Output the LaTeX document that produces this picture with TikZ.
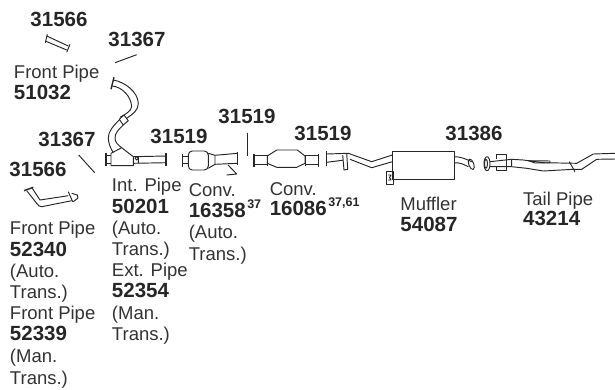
\documentclass[tikz,border=0pt]{standalone}
\usepackage{fontspec}
\setmainfont{Liberation Sans}
\tikzset{
  partno/.style={font=\fontsize{20.5}{20.5}\selectfont\bfseries,text=black!85,inner sep=0pt,anchor=base west},
  partname/.style={font=\fontsize{18.5}{18.5}\selectfont,text=black!80,inner sep=0pt,anchor=base west},
  pipe/.style={draw=black!85,line width=0.95pt,line join=round},
  flange/.style={line width=1.4pt},
}
\newcommand{\supno}[1]{\kern1.5pt\raisebox{9pt}{\fontsize{12.5}{12.5}\selectfont #1}}
\begin{document}
\begin{tikzpicture}[x=1pt,y=-1pt,pipe]
  \useasboundingbox (0,0) rectangle (615,389);
  % numbers over the parts
  \node[partno] (n1) at (30,26) {31566};
  \node[partno] (n2) at (108,46.7) {31367};
  \node[partno] (n3) at (38,146.7) {31367};
  \node[partno] (n4) at (9,176.7) {31566};
  \node[partno] (n5) at (150,143.3) {31519};
  \node[partno] (n6) at (218,123.3) {31519};
  \node[partno] (n7) at (294,140) {31519};
  \node[partno] (n8) at (445,140) {31386};
  % names of the parts
  \node[partname] (a1) at (13.5,78) {Front Pipe};
  \node[partno] (a2) at (13.5,99.3) {51032};
  \node[partname] (b1) at (111.5,191.7) {Int. Pipe};
  \node[partno] (b2) at (111.5,213) {50201};
  \node[partname] (b3) at (111.5,234) {(Auto.};
  \node[partname] (b4) at (111.5,255.3) {Trans.)};
  \node[partname] (b5) at (111.5,276) {Ext. Pipe};
  \node[partno] (b6) at (111.5,297.7) {52354};
  \node[partname] (b7) at (111.5,319.3) {(Man.};
  \node[partname] (b8) at (111.5,340) {Trans.)};
  \node[partname] (c1) at (188.3,196) {Conv.};
  \node[partno] (c2) at (188.3,217.3) {16358\supno{37}};
  \node[partname] (c3) at (188.3,238.3) {(Auto.};
  \node[partname] (c4) at (188.3,260) {Trans.)};
  \node[partname] (d1) at (269.3,195) {Conv.};
  \node[partno] (d2) at (269.3,215.7) {16086\supno{37,61}};
  \node[partname] (e1) at (400,210) {Muffler};
  \node[partno] (e2) at (400,231) {54087};
  \node[partname] (f1) at (522.7,205) {Tail Pipe};
  \node[partno] (f2) at (522.7,225.7) {43214};
  \node[partname] (g1) at (9.5,234) {Front Pipe};
  \node[partno] (g2) at (9.5,256) {52340};
  \node[partname] (g3) at (9.5,277) {(Auto.};
  \node[partname] (g4) at (9.5,298.3) {Trans.)};
  \node[partname] (g5) at (9.5,319.3) {Front Pipe};
  \node[partno] (g6) at (9.5,340.7) {52339};
  \node[partname] (g7) at (9.5,362.7) {(Man.};
  \node[partname] (g8) at (9.5,384) {Trans.)};
  % clamps and gaskets
  \draw (47.3,34.3) -- (45.3,42.7) (70,44.3) -- (66.7,52.3);
  \draw (46.7,36) -- (68.3,46) (46,41.3) -- (66.7,50);
  \draw (115,62.7) -- (136.7,54.7);
  \draw (78.7,155) -- (94.7,172.7);
  \draw (247.3,132.7) -- (247.3,156);
  % front pipe 51032
  \draw[flange] (114,77.3) -- (111,89.3);
  \draw (113.3,80) .. controls (125,82) and (138,92) .. (138.3,103.3) .. controls (138.5,110) and (133,114) .. (126.7,118.3)
        (112.3,86) .. controls (122,87) and (131,96) .. (131.7,106.7) .. controls (131,111) and (126,114) .. (120,117.3);
  \draw (119.3,119.3) -- (124,115) -- (128.3,120.7) -- (123.3,125) -- cycle;
  \draw (119.3,120) .. controls (113,126) and (108,132) .. (108.3,138.3) .. controls (108.5,144) and (111,149) .. (113.3,152.7)
        (123.3,125) .. controls (118,130) and (115,133) .. (115,138.3) .. controls (115,142) and (118,145) .. (121.7,147.7);
  % front pipe 52340
  \draw[flange] (24,190.7) -- (33.3,187.3);
  \draw (32.3,188.3) -- (40,200) -- (68.3,195.7)
        (26.7,190.7) -- (36.7,203.3) .. controls (38,205.5) and (40,207) .. (41.7,206.7) -- (71.7,200.7);
  \draw (68.3,191.7) -- (72.7,201.7) (71.7,193.3) -- (77.3,195) -- (78,198) -- (73.3,201.7);
  % int. pipe 50201
  \draw[flange] (106,153.3) -- (106,165.7) (166,153.3) -- (166,165.7);
  \draw (106,155) -- (111,155) (106,163.3) -- (111,163.3);
  \draw (111,153.3) -- (121.7,147.7) -- (133.3,156.7) -- (133.3,165.7) -- (111,165.7) -- cycle;
  \draw (133.3,156.7) -- (166,156) (133.3,163.3) -- (166,162.7) (138.3,156.7) -- (138.3,163.3);
  \draw (136.7,158.3) circle (1.7);
  % conv. 16358
  \draw[flange] (182.7,154) -- (182.7,166.7) (237.7,151.7) -- (237.7,165);
  \draw (182.7,156.7) -- (188.3,156.7) (182.7,163.3) -- (188.3,163.3);
  \draw[rounded corners=4pt] (188.3,151) rectangle (208.3,170);
  \draw (208.3,153.3) -- (215,155.3) -- (237.7,153.3) (208.3,168.3) -- (215,164.3) -- (237.7,163.3) (215,155.3) -- (215,164.3);
  \draw (228,165) -- (236.7,174) -- (226.7,175);
  % conv. 16086
  \draw[flange] (254,154) -- (254,166.7) (318.3,154) -- (318.3,166.7);
  \draw (254,155) -- (267.3,155) (254,164.3) -- (267.3,164.3);
  \draw (267.3,156) -- (276.7,150) -- (297.3,150) -- (305,156) -- (305,163.3) -- (296.7,167.3) -- (276.7,167.3) -- (267.3,163.3) -- cycle;
  \draw (267.3,154.5) -- (267.3,165.5) (305,154.5) -- (305,165.5);
  \draw (305,155) -- (318.3,155) (305,164.3) -- (318.3,164.3);
  % inlet pipe of the muffler
  \draw[flange] (326.7,150.7) -- (326.7,166);
  \draw (326.7,154) -- (348.3,153.3) -- (371.7,161.7) -- (392.3,155);
  \draw (326.7,162.3) -- (342.9,160.2) (350,159.3) -- (371.7,167.7) -- (392.3,161.7);
  \draw (342.7,155) -- (344,170) -- (347.7,169.3) -- (346.7,153.3);
  % muffler 54087
  \draw (392.3,151.3) rectangle (454,179.3);
  \draw (386.7,171.7) rectangle (393.3,184);
  \draw (388,175) -- (391,175) -- (389.5,177.5) -- (391,180) -- (388,180);
  \draw (454,156.7) .. controls (460,156.5) and (466,159) .. (471.7,161.7)
        (454,162.7) .. controls (460,162.5) and (464,164.5) .. (468.3,166.7);
  \draw[rotate around={20:(471.3,164.3)}] (471.3,164.3) ellipse (2.5 and 5.5);
  % tail pipe 43214
  \draw (487,163.7) ellipse (3 and 7);
  \draw (486,163.7) ellipse (1.5 and 4.5);
  \draw (490,161.7) -- (511.7,159.3) (490,166.7) -- (511.7,166.7) (511.7,159.3) -- (511.7,166.7);
  \draw (496.7,159) -- (496.7,154.7) -- (506.7,154.7) -- (506.7,170.7) -- (496.7,170.7) -- (496.7,167);
  \draw (511.7,159.3) -- (523.3,160) -- (543.3,162.7) -- (576.7,163.3) -- (593.3,154) -- (615,153.3);
  \draw (511.7,166.7) -- (526.7,168.3) -- (543.3,171) -- (573.3,169.3) -- (581.7,169.3) -- (596.7,159.3) -- (615,159);
  \draw (528.3,160.7) -- (535,163) -- (550,162.7) -- (550,161) -- (528.3,160.7);
  \draw (569.3,161.7) -- (575,171.7);
\end{tikzpicture}
\end{document}
